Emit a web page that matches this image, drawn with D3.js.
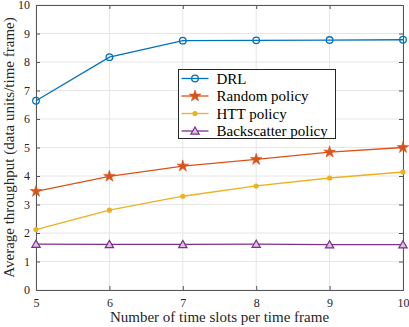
<!DOCTYPE html>
<html><head><meta charset="utf-8">
<script src="https://cdn.jsdelivr.net/npm/d3@7"></script>
<style>body{margin:0;background:#fff}svg{display:block}</style>
</head><body>
<script>
const xValues = [5, 6, 7, 8, 9, 10];
const drl = [6.64, 8.17, 8.75, 8.76, 8.77, 8.78];
const randomPolicy = [3.46, 3.99, 4.35, 4.58, 4.84, 5.0];
const httPolicy = [2.12, 2.80, 3.29, 3.65, 3.93, 4.14];
const backscatter = [1.61, 1.60, 1.60, 1.61, 1.59, 1.59];
const yTicks = [0,1,2,3,4,5,6,7,8,9,10];
const seriesNames = ["DRL", "Random policy", "HTT policy", "Backscatter policy"];
const colors = ["#0072BD", "#D95319", "#EDB120", "#7E2F8E"];
const markers = ["circle", "star", "dot", "triangle"];

const W = 409, H = 327;
const m = {l: 36, r: 6, t: 5, b: 37};
const svg = d3.select("body").append("svg").attr("width", W).attr("height", H);
const x = d3.scaleLinear().domain([5, 10]).range([m.l, W - m.r]);
const y = d3.scaleLinear().domain([0, 10]).range([H - m.b, m.t]);
const font = "'Liberation Serif', 'Times New Roman', serif";

// grid
const g = svg.append("g");
g.selectAll(".gx").data(xValues).enter().append("line")
  .attr("x1", d => x(d)).attr("x2", d => x(d)).attr("y1", y(0)).attr("y2", y(10))
  .attr("stroke", "#e6e6e6").attr("stroke-width", 1);
g.selectAll(".gy").data(yTicks).enter().append("line")
  .attr("y1", d => y(d)).attr("y2", d => y(d)).attr("x1", x(5)).attr("x2", x(10))
  .attr("stroke", "#e6e6e6").attr("stroke-width", 1);

// axes
const axColor = "#555";
const xAxis = svg.append("g").attr("transform", `translate(0,${y(0)})`)
  .call(d3.axisBottom(x).tickValues(xValues).tickSize(-4).tickPadding(8).tickFormat(d3.format("d")));
const xAxisTop = svg.append("g").attr("transform", `translate(0,${y(10)})`)
  .call(d3.axisTop(x).tickValues(xValues).tickSize(-4).tickFormat(""));
const yAxis = svg.append("g").attr("transform", `translate(${x(5)},0)`)
  .call(d3.axisLeft(y).tickValues(yTicks).tickSize(-4).tickPadding(6));
const yAxisR = svg.append("g").attr("transform", `translate(${x(10)},0)`)
  .call(d3.axisRight(y).tickValues(yTicks).tickSize(-4).tickFormat(""));
[xAxis, xAxisTop, yAxis, yAxisR].forEach(a => {
  a.selectAll("path,line").attr("stroke", axColor);
  a.selectAll("text").attr("fill", "#262626").style("font-family", font).style("font-size", "12px");
});

// labels
svg.append("text").attr("x", (x(5) + x(10)) / 2).attr("y", 322).attr("text-anchor", "middle")
  .style("font-family", font).style("font-size", "15px").attr("fill", "#262626")
  .text("Number of time slots per time frame");
svg.append("text").attr("transform", `translate(14,${(y(0) + y(10)) / 2}) rotate(-90)`)
  .attr("text-anchor", "middle")
  .style("font-family", font).style("font-size", "15px").attr("fill", "#262626")
  .text("Average throughput (data units/time frame)");

function drawMarker(sel, type, color, cx, cy) {
  if (type === "circle") {
    sel.append("circle").attr("cx", cx).attr("cy", cy).attr("r", 3.3)
      .attr("fill", "none").attr("stroke", color).attr("stroke-width", 1.3);
  } else if (type === "star") {
    sel.append("path").attr("transform", `translate(${cx},${cy})`)
      .attr("d", d3.symbol().type(d3.symbolStar).size(42)())
      .attr("fill", color).attr("stroke", color).attr("stroke-width", 0.6);
  } else if (type === "dot") {
    sel.append("circle").attr("cx", cx).attr("cy", cy).attr("r", 2.6).attr("fill", color);
  } else {
    sel.append("path").attr("transform", `translate(${cx},${cy + 0.8})`)
      .attr("d", d3.symbol().type(d3.symbolTriangle).size(30)())
      .attr("fill", "#d8c4dc").attr("stroke", color).attr("stroke-width", 1.2);
  }
}

const allSeries = [drl, randomPolicy, httPolicy, backscatter];
const line = d3.line().x((d, i) => x(xValues[i])).y(d => y(d));
allSeries.forEach((s, k) => {
  const sg = svg.append("g");
  sg.append("path").datum(s).attr("d", line).attr("fill", "none")
    .attr("stroke", colors[k]).attr("stroke-width", 1.3);
  s.forEach((v, i) => drawMarker(sg, markers[k], colors[k], x(xValues[i]), y(v)));
});

// legend
const lx = 178.5, ly = 69.5, lw = 157, lh = 69;
const lg = svg.append("g");
lg.append("rect").attr("x", lx).attr("y", ly).attr("width", lw).attr("height", lh)
  .attr("fill", "#fff").attr("stroke", "#262626").attr("stroke-width", 1);
seriesNames.forEach((name, k) => {
  const yy = ly + 9 + k * 17.5;
  lg.append("line").attr("x1", lx + 3).attr("x2", lx + 30).attr("y1", yy).attr("y2", yy)
    .attr("stroke", colors[k]).attr("stroke-width", 1.3);
  drawMarker(lg, markers[k], colors[k], lx + 16.5, yy);
  lg.append("text").attr("x", lx + 38).attr("y", yy + 5)
    .style("font-family", font).style("font-size", "15px").attr("fill", "#000").text(name);
});
</script>
</body></html>
